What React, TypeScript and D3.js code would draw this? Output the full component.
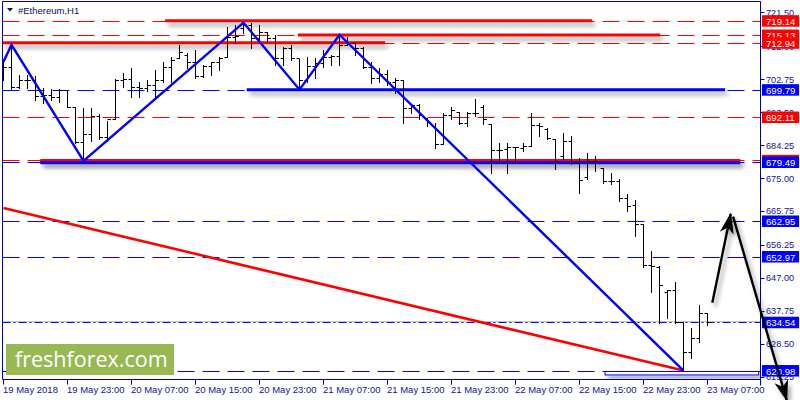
import React from 'react';
import * as d3 from 'd3';

const W = 800;
const H = 400;

// OHLC H1 bars, 19 May 2018 15:00 .. 23 May 2018 07:00
const opens = [703.03, 706.15, 700.48, 702.47, 702.47, 697.93, 698.22, 697.65, 699.63, 694.82,
  685.18, 687.45, 692.27, 686.60, 691.70, 702.47, 702.75, 700.48, 700.20, 701.05,
  702.47, 706.15, 708.70, 709.55, 707.57, 703.60, 706.43, 707.57, 708.98, 714.65,
  717.20, 718.05, 714.36, 716.06, 714.36, 708.70, 711.53, 708.70, 702.47, 706.43,
  707.28, 708.98, 709.27, 712.38, 712.95, 711.53, 706.15, 703.03, 704.17, 701.90,
  702.47, 694.53, 695.38, 691.98, 689.72, 684.62, 692.55, 693.40, 690.57, 693.12,
  694.82, 690.28, 682.92, 683.20, 683.77, 683.49, 684.05, 690.00, 688.87, 686.03,
  681.22, 685.47, 679.24, 675.27, 679.80, 677.82, 674.14, 674.14, 669.33, 667.5,
  662.0, 650.7, 649.9, 643.0, 643.6, 634.5, 626.1, 630.0, 637.1];
const highs = [708.13, 712.38, 703.88, 703.88, 703.60, 700.20, 699.92, 699.92, 699.63, 694.82,
  694.53, 694.53, 692.83, 691.13, 702.75, 704.45, 705.87, 701.90, 702.47, 705.30,
  707.57, 708.98, 712.38, 710.12, 710.97, 706.72, 707.57, 708.98, 717.48, 718.05,
  718.61, 718.61, 718.05, 716.06, 715.21, 711.81, 712.38, 708.42, 708.98, 708.70,
  710.97, 709.55, 715.21, 714.65, 713.23, 711.81, 707.57, 705.87, 705.30, 703.03,
  702.47, 695.67, 695.67, 691.98, 690.57, 693.12, 694.82, 693.40, 693.40, 697.08,
  695.38, 690.28, 684.90, 684.90, 683.77, 684.90, 693.12, 690.57, 689.15, 686.03,
  687.73, 686.88, 680.65, 682.07, 681.22, 677.82, 676.40, 674.70, 670.46, 668.7,
  662.0, 654.4, 650.4, 643.6, 645.9, 634.5, 632.9, 639.4, 637.1];
const lows = [702.47, 699.63, 700.20, 700.20, 696.80, 695.95, 696.80, 696.23, 694.82, 684.90,
  679.80, 685.47, 686.03, 685.47, 691.42, 700.48, 697.65, 697.65, 699.35, 697.65,
  701.90, 701.90, 708.70, 705.87, 703.03, 703.32, 703.88, 705.30, 708.98, 712.95,
  715.78, 711.53, 712.95, 713.23, 706.72, 706.72, 708.13, 699.63, 701.90, 703.03,
  706.15, 706.72, 706.72, 712.38, 709.55, 705.87, 701.62, 701.90, 701.05, 698.78,
  690.57, 693.12, 691.70, 689.72, 683.49, 684.62, 691.70, 690.28, 689.72, 692.27,
  690.28, 676.40, 679.24, 676.40, 679.24, 682.64, 684.05, 686.88, 686.03, 677.54,
  680.37, 678.95, 670.74, 674.70, 676.97, 673.57, 673.29, 668.47, 665.64, 658.6,
  649.9, 643.1, 634.3, 635.7, 634.3, 621.0, 624.6, 628.9, 633.7];
const closes = [706.15, 700.48, 702.47, 702.47, 697.93, 698.22, 697.65, 699.63, 694.82, 685.18,
  687.45, 692.27, 686.60, 691.70, 702.47, 702.75, 700.48, 700.20, 701.05, 702.47,
  706.15, 708.13, 710.40, 707.57, 703.60, 706.43, 707.57, 708.70, 714.65, 714.93,
  718.05, 714.36, 716.06, 714.36, 708.70, 711.53, 708.70, 702.47, 706.43, 707.28,
  708.98, 709.27, 712.38, 712.95, 711.53, 706.15, 703.03, 704.17, 701.90, 702.47,
  694.53, 695.38, 692.55, 690.85, 684.62, 692.55, 693.97, 690.57, 693.12, 693.12,
  691.70, 682.92, 682.92, 683.77, 683.77, 684.05, 690.00, 689.72, 686.32, 679.80,
  685.47, 679.24, 674.42, 679.80, 679.80, 674.14, 674.14, 669.33, 667.06, 662.0,
  650.7, 650.4, 645.0, 643.6, 634.5, 626.1, 630.0, 637.1, 634.54];

const priceTicks = [721.5, 712.0, 702.75, 693.5, 684.25, 675.0, 665.75, 656.25, 647.0, 637.75, 628.5, 619.25];
const timeTickIdx = [0, 8, 16, 24, 32, 40, 48, 56, 64, 72, 80, 88];
const timeTickLabels = ['19 May 2018', '19 May 23:00', '20 May 07:00', '20 May 15:00', '20 May 23:00',
  '21 May 07:00', '21 May 15:00', '21 May 23:00', '22 May 07:00', '22 May 15:00', '22 May 23:00', '23 May 07:00'];

const redLevels = [719.14, 715.13, 712.94, 692.11, 679.95];
const blueLevels = [699.79, 679.49, 662.95, 652.97, 620.98];
const currentPrice = 634.54;
const bidPrice = 634.95;

// thick horizontal segments (bar index from..to)
const hRedPrice = [719.14, 712.94, 715.13, 679.95];
const hRedFrom = [20.2, -0.1, 36.8, 4.6];
const hRedTo = [73.6, 47.7, 82.1, 92.1];
const hBluePrice = [699.79, 679.3];
const hBlueFrom = [30.4, 4.6];
const hBlueTo = [90.2, 92.1];
const boxFrom = 75.2;
const boxTo = 94.4;
const boxTop = 620.98;
const boxBottom = 620.3;

// zigzag
const zigIdx = [0, 1, 10, 30, 37, 42, 85];
const zigPrice = [707.6, 712.38, 679.8, 718.61, 699.79, 715.21, 620.98];
// red diagonal
const diagIdx = [0, 85];
const diagPrice = [666.6, 620.98];
// arrows
const arrowFromIdx = [88.6, 91.2];
const arrowFromPrice = [640.0, 664.15];
const arrowToIdx = [90.9, 97.9];
const arrowToPrice = [664.9, 612.7];

const x = d3.scaleLinear().domain([0, 88]).range([3.5, 707.5]);
const y = d3.scaleLinear().domain([619.25, 721.5]).range([376.7, 12.3]);

const PL = 2.5, PR = 760.5, PT = 1.5, PB = 379.5;
const FRAME = '#0000a0';
const TXT = '#14148f';
const RED = '#ff0000';
const BLUE = '#0000ff';
const FONT = '"Liberation Sans", Arial, sans-serif';

const cy = (p: number) => Math.round(y(p)) + 0.5;

function Arrow({ x1, y1, x2, y2 }: { x1: number; y1: number; x2: number; y2: number }) {
  const ang = Math.atan2(y2 - y1, x2 - x1) * 180 / Math.PI;
  return (
    <g filter="url(#shadow)">
      <line x1={x1} y1={y1} x2={x2} y2={y2} stroke="#000" strokeWidth={2.4} />
      <path d="M0,0 L-18,-6 L-13,0 L-18,6 Z" fill="#000" stroke="#000" strokeWidth={1}
        transform={`translate(${x2},${y2}) rotate(${ang})`} />
    </g>
  );
}

export default function App() {
  const zigLine = d3.line<number>().x((_, i) => x(zigIdx[i])).y((d) => y(d));
  const diagLine = d3.line<number>().x((_, i) => x(diagIdx[i])).y((d) => y(d));
  const idx = d3.range(opens.length);

  const blueBoxes = [...blueLevels, currentPrice];

  return (
    <svg width={W} height={H} style={{ position: 'fixed', left: 0, top: 0, background: '#fff' }}
      xmlns="http://www.w3.org/2000/svg">
      <defs>
        <filter id="shadow" filterUnits="userSpaceOnUse" x={0} y={0} width={W} height={H}>
          <feDropShadow dx="3" dy="4" stdDeviation="2" floodColor="#000" floodOpacity="0.35" />
        </filter>
        <clipPath id="plot">
          <rect x={PL} y={PT} width={PR - PL} height={PB - PT} />
        </clipPath>
      </defs>
      <rect x={0} y={0} width={W} height={H} fill="#fff" />

      <g clipPath="url(#plot)">
        {/* bid line */}
        <line x1={PL} x2={PR} y1={cy(bidPrice)} y2={cy(bidPrice)} stroke="#c8c8c8" strokeWidth={1} />
        {/* dashed levels */}
        {redLevels.map((p, i) => (
          <line key={'rl' + i} x1={PL} x2={PR} y1={cy(p)} y2={cy(p)} stroke={RED} strokeWidth={1}
            strokeDasharray="17 8" />
        ))}
        {blueLevels.map((p, i) => (
          <line key={'bl' + i} x1={PL} x2={PR} y1={cy(p)} y2={cy(p)} stroke={BLUE} strokeWidth={1}
            strokeDasharray="17 8" />
        ))}
        <line x1={PL} x2={PR} y1={cy(currentPrice)} y2={cy(currentPrice)} stroke={BLUE} strokeWidth={1}
          strokeDasharray="8 3 2 3" />

        {/* thick horizontal segments */}
        {hRedPrice.map((p, i) => (
          <line key={'hr' + i} x1={x(hRedFrom[i])} x2={x(hRedTo[i])} y1={y(p)} y2={y(p)} stroke={RED}
            strokeWidth={3} filter="url(#shadow)" />
        ))}
        {hBluePrice.map((p, i) => (
          <line key={'hb' + i} x1={x(hBlueFrom[i])} x2={x(hBlueTo[i])} y1={y(p)} y2={y(p)} stroke={BLUE}
            strokeWidth={3} filter="url(#shadow)" />
        ))}
        <rect x={x(boxFrom)} y={cy(boxTop)} width={x(boxTo) - x(boxFrom)} height={y(boxBottom) - y(boxTop) + 1}
          fill="#fff" stroke={BLUE} strokeWidth={1} filter="url(#shadow)" />

        {/* bars */}
        {idx.map((i) => {
          const bx = x(i);
          return (
            <g key={'b' + i} stroke="#000" strokeWidth={1}>
              <line x1={bx} x2={bx} y1={Math.round(y(highs[i]))} y2={Math.round(y(lows[i])) + 1} />
              <line x1={bx - 3} x2={bx} y1={cy(opens[i])} y2={cy(opens[i])} />
              <line x1={bx} x2={bx + 3.5} y1={cy(closes[i])} y2={cy(closes[i])} />
            </g>
          );
        })}

        {/* trend lines */}
        <path d={diagLine(diagPrice) || ''} fill="none" stroke={RED} strokeWidth={2.6} />
        <path d={zigLine(zigPrice) || ''} fill="none" stroke={BLUE} strokeWidth={2.4} />
      </g>

      {/* frame */}
      <line x1={PL} x2={PR} y1={PT} y2={PT} stroke={FRAME} />
      <line x1={PL} x2={PR} y1={PB} y2={PB} stroke={FRAME} />
      <line x1={PL} x2={PL} y1={PT} y2={PB} stroke={FRAME} />
      <line x1={PR} x2={PR} y1={PT} y2={PB + 6} stroke={FRAME} />

      {/* price axis */}
      {priceTicks.map((p, i) => (
        <g key={'pt' + i}>
          <line x1={PR} x2={PR + 4} y1={cy(p)} y2={cy(p)} stroke={FRAME} />
          <text x={766} y={y(p) + 3.5} fontFamily={FONT} fontSize={9.2} fill={TXT}>{p.toFixed(2)}</text>
        </g>
      ))}
      {/* level label boxes */}
      {redLevels.map((p, i) => (
        <g key={'rb' + i}>
          <rect x={762} y={y(p) - 5.5} width={37} height={11.5} fill={RED} />
          <text x={766} y={y(p) + 4} fontFamily={FONT} fontSize={9.6} fill="#fff">{p.toFixed(2)}</text>
        </g>
      ))}
      {blueBoxes.map((p, i) => (
        <g key={'bb' + i}>
          <rect x={762} y={y(p) - 5.5} width={37} height={11.5} fill={BLUE} />
          <text x={766} y={y(p) + 4} fontFamily={FONT} fontSize={9.6} fill="#fff">{p.toFixed(2)}</text>
        </g>
      ))}

      {/* time axis */}
      {timeTickIdx.map((t, i) => (
        <g key={'tt' + i}>
          <line x1={x(t)} x2={x(t)} y1={PB} y2={PB + 5} stroke={FRAME} />
          <text x={x(t) - 0.5} y={393} fontFamily={FONT} fontSize={9.5} fill={TXT}>{timeTickLabels[i]}</text>
        </g>
      ))}

      {/* title */}
      <path d="M7,8 L13,8 L10,11.5 Z" fill="#101050" />
      <text x={18} y={14} fontFamily={FONT} fontSize={9.5} fill="#101050">#Ethereum,H1</text>

      {/* logo */}
      <rect x={6} y={344} width={168} height={31} fill="#97b853" />
      <text x={15} y={367} fontFamily='"Open Sans", sans-serif' fontSize={21.5} fill="#fff">freshforex.com</text>

      {/* arrows */}
      {arrowFromIdx.map((a, i) => (
        <Arrow key={'ar' + i} x1={x(a)} y1={y(arrowFromPrice[i])} x2={x(arrowToIdx[i])} y2={y(arrowToPrice[i])} />
      ))}
    </svg>
  );
}
